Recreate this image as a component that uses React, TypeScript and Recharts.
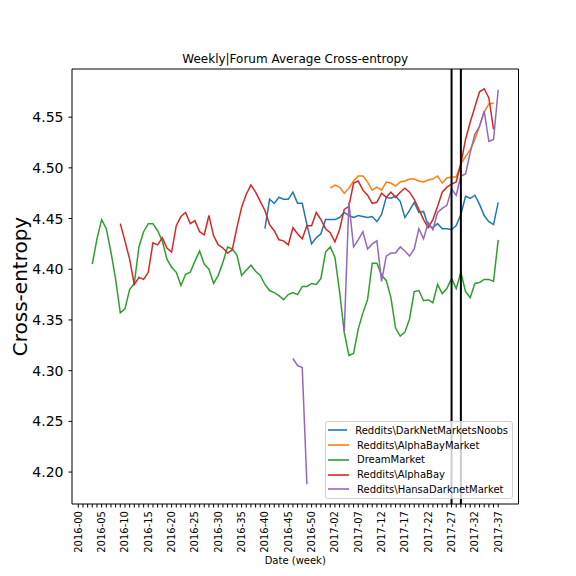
import React from "react";
import { LineChart, Line, XAxis, YAxis, ReferenceLine, Legend, Label } from "recharts";

const _ = null;

// one entry per week, 2016-00 .. 2017-37
const weeks = [
  "2016-00", "2016-01", "2016-02", "2016-03", "2016-04", "2016-05", "2016-06", "2016-07", "2016-08", "2016-09",
  "2016-10", "2016-11", "2016-12", "2016-13", "2016-14", "2016-15", "2016-16", "2016-17", "2016-18", "2016-19",
  "2016-20", "2016-21", "2016-22", "2016-23", "2016-24", "2016-25", "2016-26", "2016-27", "2016-28", "2016-29",
  "2016-30", "2016-31", "2016-32", "2016-33", "2016-34", "2016-35", "2016-36", "2016-37", "2016-38", "2016-39",
  "2016-40", "2016-41", "2016-42", "2016-43", "2016-44", "2016-45", "2016-46", "2016-47", "2016-48", "2016-49",
  "2016-50", "2016-51", "2016-52", "2017-00", "2017-01", "2017-02", "2017-03", "2017-04", "2017-05", "2017-06",
  "2017-07", "2017-08", "2017-09", "2017-10", "2017-11", "2017-12", "2017-13", "2017-14", "2017-15", "2017-16",
  "2017-17", "2017-18", "2017-19", "2017-20", "2017-21", "2017-22", "2017-23", "2017-24", "2017-25", "2017-26",
  "2017-27", "2017-28", "2017-29", "2017-30", "2017-31", "2017-32", "2017-33", "2017-34", "2017-35", "2017-36",
  "2017-37",
];

const labeledWeeks = [
  "2016-00", "2016-05", "2016-10", "2016-15", "2016-20", "2016-25", "2016-30", "2016-35", "2016-40", "2016-45",
  "2016-50", "2017-02", "2017-07", "2017-12", "2017-17", "2017-22", "2017-27", "2017-32", "2017-37",
];

const markerWeeks = ["2017-27", "2017-29"];

const yTicks = [4.2, 4.25, 4.3, 4.35, 4.4, 4.45, 4.5, 4.55];

const darknetNoobs = [
  _, _, _, _, _, _, _, _, _, _,
  _, _, _, _, _, _, _, _, _, _,
  _, _, _, _, _, _, _, _, _, _,
  _, _, _, _, _, _, _, _, _, _,
  4.440, 4.469, 4.465, 4.471, 4.469, 4.469, 4.476, 4.465, 4.465, 4.444,
  4.425, 4.431, 4.435, 4.449, 4.449, 4.449, 4.451, 4.456, 4.453, 4.451,
  4.453, 4.452, 4.451, 4.452, 4.447, 4.454, 4.471, 4.470, 4.472, 4.467,
  4.451, 4.458, 4.466, 4.456, 4.457, 4.443, 4.441, 4.445, 4.440, 4.440,
  4.439, 4.443, 4.454, 4.472, 4.470, 4.473, 4.464, 4.453, 4.447, 4.444,
  4.466,
];

const alphaBayMarket = [
  _, _, _, _, _, _, _, _, _, _,
  _, _, _, _, _, _, _, _, _, _,
  _, _, _, _, _, _, _, _, _, _,
  _, _, _, _, _, _, _, _, _, _,
  _, _, _, _, _, _, _, _, _, _,
  _, _, _, _, 4.480, 4.483, 4.481, 4.475, 4.480, 4.487,
  4.492, 4.492, 4.486, 4.478, 4.481, 4.478, 4.486, 4.485, 4.482, 4.486,
  4.487, 4.489, 4.489, 4.487, 4.486, 4.488, 4.489, 4.492, 4.485, 4.490,
  4.491, 4.491, 4.504, 4.511, 4.518, 4.528, 4.541, 4.555, 4.563, 4.564,
  _,
];

const dreamMarket = [
  _, _, _, 4.405, 4.430, 4.449, 4.440, 4.417, 4.390, 4.357,
  4.361, 4.380, 4.386, 4.422, 4.437, 4.445, 4.445, 4.438, 4.428, 4.410,
  4.402, 4.397, 4.384, 4.395, 4.397, 4.408, 4.418, 4.405, 4.400, 4.386,
  4.394, 4.407, 4.422, 4.420, 4.414, 4.394, 4.399, 4.404, 4.398, 4.394,
  4.385, 4.379, 4.377, 4.374, 4.370, 4.375, 4.377, 4.375, 4.383, 4.383,
  4.386, 4.385, 4.391, 4.417, 4.422, 4.412, 4.378, 4.338, 4.315, 4.317,
  4.341, 4.357, 4.370, 4.406, 4.406, 4.394, 4.389, 4.372, 4.342, 4.334,
  4.338, 4.351, 4.378, 4.379, 4.369, 4.370, 4.367, 4.385, 4.376, 4.381,
  4.391, 4.381, 4.397, 4.378, 4.372, 4.386, 4.387, 4.390, 4.390, 4.388,
  4.429,
];

const alphaBay = [
  _, _, _, _, _, _, _, _, _, 4.445,
  4.428, 4.410, 4.385, 4.392, 4.390, 4.397, 4.426, 4.424, 4.431, 4.421,
  4.417, 4.443, 4.452, 4.456, 4.445, 4.448, 4.437, 4.434, 4.453, 4.433,
  4.424, 4.421, 4.416, 4.419, 4.441, 4.461, 4.474, 4.483, 4.476, 4.467,
  4.458, 4.444, 4.438, 4.429, 4.428, 4.424, 4.441, 4.435, 4.430, 4.443,
  4.443, 4.456, 4.449, 4.440, 4.436, 4.427, 4.439, 4.459, 4.462, 4.485,
  4.487, 4.478, 4.473, 4.465, 4.466, 4.475, 4.471, 4.476, 4.471, 4.476,
  4.480, 4.476, 4.469, 4.459, 4.449, 4.441, 4.449, 4.462, 4.476, 4.481,
  4.484, 4.486, 4.504, 4.528, 4.545, 4.560, 4.575, 4.578, 4.569, 4.538,
  _,
];

const hansaMarket = [
  _, _, _, _, _, _, _, _, _, _,
  _, _, _, _, _, _, _, _, _, _,
  _, _, _, _, _, _, _, _, _, _,
  _, _, _, _, _, _, _, _, _, _,
  _, _, _, _, _, _, 4.312, 4.305, 4.303, 4.188,
  _, _, _, _, _, _, _, 4.338, 4.466, 4.422,
  4.429, 4.437, 4.420, 4.425, 4.428, 4.388, 4.413, 4.416, 4.416, 4.422,
  4.418, 4.413, 4.420, 4.440, 4.430, 4.446, 4.439, 4.456, 4.460, 4.463,
  4.479, 4.473, 4.492, 4.494, 4.515, 4.533, 4.541, 4.556, 4.526, 4.528,
  4.577,
];

const series = [
  { key: "noobs", name: "Reddits\\DarkNetMarketsNoobs", color: "#1f77b4", values: darknetNoobs },
  { key: "abMarket", name: "Reddits\\AlphaBayMarket", color: "#ff7f0e", values: alphaBayMarket },
  { key: "dream", name: "DreamMarket", color: "#2ca02c", values: dreamMarket },
  { key: "alphaBay", name: "Reddits\\AlphaBay", color: "#d62728", values: alphaBay },
  { key: "hansa", name: "Reddits\\HansaDarknetMarket", color: "#9467bd", values: hansaMarket },
];

const rows = weeks.map((week, idx) => {
  const row: Record<string, number | string | null> = { idx, week };
  series.forEach((s) => {
    row[s.key] = s.values[idx];
  });
  return row;
});

const weekTicks = weeks.map((_w, i) => i);
const xDomain = [-1.35, 94.35];
const yDomain = [4.1685, 4.5975];
const font = "DejaVu Sans";

const WeekTick = ({ x, y, payload }: any) => {
  const label = weeks[payload.value];
  if (!labeledWeeks.includes(label)) return <g />;
  return (
    <text
      x={x}
      y={y}
      dy="0.35em"
      transform={`rotate(-90, ${x}, ${y})`}
      textAnchor="end"
      fontSize={10}
      fontFamily={font}
      fill="#000"
    >
      {label}
    </text>
  );
};

const YTitle = (props: any) => {
  const vb = props.viewBox || { x: 0, y: 69, width: 72, height: 435 };
  const cx = vb.x + 27;
  const cy = vb.y + vb.height / 2;
  return (
    <text
      x={cx}
      y={cy}
      transform={`rotate(-90, ${cx}, ${cy})`}
      textAnchor="middle"
      fontSize={20}
      fontFamily={font}
      fill="#000"
    >
      Cross-entropy
    </text>
  );
};

const LegendBox = () => (
  <div
    style={{
      boxSizing: "border-box",
      width: 188,
      height: 78,
      padding: "1px 4px 0 2px",
      border: "1px solid #d0d0d0",
      borderRadius: 3,
      background: "rgba(255,255,255,0.8)",
      fontFamily: font,
      fontSize: 10,
      color: "#000",
    }}
  >
    {series.map((s) => (
      <div key={s.key} style={{ display: "flex", alignItems: "center", height: 14.75 }}>
        <span
          style={{
            display: "inline-block",
            width: 21,
            height: 0,
            borderTop: `2px solid ${s.color}`,
            opacity: 0.8,
            marginRight: 8,
          }}
        />
        <span style={{ whiteSpace: "nowrap" }}>{s.name}</span>
      </div>
    ))}
  </div>
);

export default function App() {
  return (
    <div style={{ position: "absolute", left: 0, top: 0, width: 576, height: 576, background: "#fff" }}>
      <LineChart
        width={576}
        height={576}
        data={rows}
        margin={{ top: 68, right: 56.5, bottom: 0, left: 0 }}
        style={{ fontFamily: font }}
      >
        <XAxis
          dataKey="idx"
          type="number"
          domain={xDomain}
          allowDataOverflow
          ticks={weekTicks}
          interval={0}
          height={72}
          tickSize={3.5}
          tickMargin={3.5}
          tick={<WeekTick />}
          tickLine={{ stroke: "#000" }}
          axisLine={{ stroke: "#000" }}
        >
          <Label value="Date (week)" position="insideBottom" offset={12} fontSize={10} fill="#000" />
        </XAxis>
        {/* top and right spines of the frame */}
        <XAxis
          xAxisId="top"
          orientation="top"
          dataKey="idx"
          type="number"
          domain={xDomain}
          allowDataOverflow
          height={1}
          tick={false}
          tickLine={false}
          axisLine={{ stroke: "#000" }}
        >
          <Label value="Weekly|Forum Average Cross-entropy" position="top" offset={5} fontSize={12} fill="#000" />
        </XAxis>
        <YAxis
          type="number"
          domain={yDomain}
          allowDataOverflow
          ticks={yTicks}
          interval={0}
          width={72}
          tickSize={3.5}
          tickMargin={5}
          tickFormatter={(v: number) => v.toFixed(2)}
          tick={{ fontSize: 14, fill: "#000" }}
          tickLine={{ stroke: "#000" }}
          axisLine={{ stroke: "#000" }}
        >
          <Label content={YTitle} />
        </YAxis>
        <YAxis
          yAxisId="right"
          orientation="right"
          type="number"
          domain={yDomain}
          allowDataOverflow
          width={1}
          tick={false}
          tickLine={false}
          axisLine={{ stroke: "#000" }}
        />
        {series.map((s) => (
          <Line
            key={s.key}
            dataKey={s.key}
            name={s.name}
            type="linear"
            stroke={s.color}
            strokeWidth={1.5}
            dot={false}
            activeDot={false}
            connectNulls={false}
            isAnimationActive={false}
          />
        ))}
        {markerWeeks.map((w) => (
          <ReferenceLine key={w} x={weeks.indexOf(w)} stroke="#000" strokeWidth={2} />
        ))}
        <Legend
          layout="vertical"
          align="center"
          verticalAlign="middle"
          content={<LegendBox />}
          wrapperStyle={{ left: 325, top: 421, width: 188 }}
        />
      </LineChart>
    </div>
  );
}
